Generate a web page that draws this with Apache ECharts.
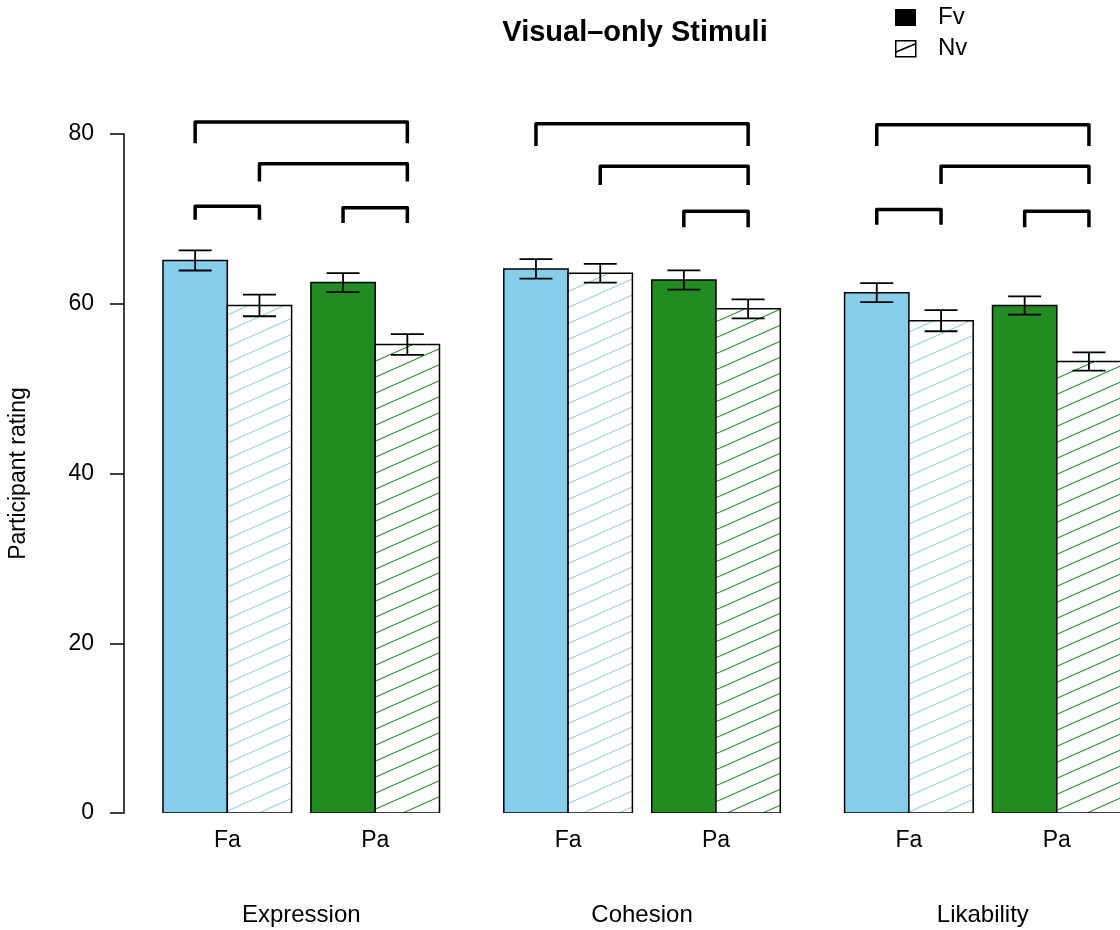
<!DOCTYPE html>
<html><head><meta charset="utf-8">
<script src="https://cdn.jsdelivr.net/npm/echarts@6/dist/echarts.min.js"></script>
<style>html,body{margin:0;padding:0;background:#fff}#c{width:1120px;height:930px}</style>
</head><body><div id="c"></div>
<script>
// ---- data ----
const groups = ['Expression', 'Cohesion', 'Likability'];
const audioLevels = ['Fa', 'Pa'];
const visualLevels = ['Fv', 'Nv'];
const yTicks = [0, 20, 40, 60, 80];
const faFv = [65.1, 64.1, 61.3];
const faNv = [59.8, 63.6, 58.0];
const paFv = [62.5, 62.8, 59.8];
const paNv = [55.2, 59.4, 53.2];
const faFvErr = [1.18, 1.15, 1.12];
const faNvErr = [1.27, 1.10, 1.24];
const paFvErr = [1.12, 1.14, 1.08];
const paNvErr = [1.22, 1.12, 1.08];
// significance brackets: group, from bar, to bar (0 FaFv, 1 FaNv, 2 PaFv, 3 PaNv), top level, tip level
const bracketGroup = [0, 0, 0, 0, 1, 1, 1, 2, 2, 2, 2];
const bracketFrom  = [0, 1, 0, 2, 0, 1, 2, 0, 1, 0, 2];
const bracketTo    = [3, 3, 1, 3, 3, 3, 3, 3, 3, 1, 3];
const bracketTop   = [81.4, 76.5, 71.5, 71.3, 81.2, 76.2, 70.9, 81.1, 76.2, 71.1, 70.9];
const bracketTip   = [78.9, 74.4, 69.9, 69.5, 78.6, 74.0, 69.0, 78.6, 74.1, 69.3, 69.0];

// ---- layout (bar units) ----
const PAIR_STEP = 2.3, GROUP_STEP = 5.3;
const X_MIN = -0.6065, X_MAX = 14.883;
const FONT = '"Liberation Sans", Arial, Helvetica, sans-serif';
const SKY = '#87CEEB', GREEN = '#228B22';

function barLeft(g, a, v) { return g * GROUP_STEP + a * PAIR_STEP + v; }

function makePattern(color) {
  const w = 36, h = 16;
  const cv = document.createElement('canvas');
  cv.width = w; cv.height = h;
  const ctx = cv.getContext('2d');
  ctx.fillStyle = '#fff'; ctx.fillRect(0, 0, w, h);
  ctx.strokeStyle = color; ctx.lineWidth = 1.1;
  for (let k = -2; k <= 2; k++) {
    ctx.beginPath();
    ctx.moveTo(-w, 2 * h + h * k);
    ctx.lineTo(2 * w, -h + h * k);
    ctx.stroke();
  }
  return { image: cv, repeat: 'repeat' };
}

const barDefs = [
  { name: 'Fa Fv', a: 0, v: 0, vals: faFv, errs: faFvErr, color: SKY, hatch: false },
  { name: 'Fa Nv', a: 0, v: 1, vals: faNv, errs: faNvErr, color: SKY, hatch: true },
  { name: 'Pa Fv', a: 1, v: 0, vals: paFv, errs: paFvErr, color: GREEN, hatch: false },
  { name: 'Pa Nv', a: 1, v: 1, vals: paNv, errs: paNvErr, color: GREEN, hatch: true }
];

function barRenderer(def) {
  const fill = def.hatch ? makePattern(def.color) : def.color;
  return function (params, api) {
    const x0 = api.value(0), y = api.value(1), e = api.value(2);
    const p0 = api.coord([x0, 0]);
    const p1 = api.coord([x0 + 1, y]);
    const cx = (p0[0] + p1[0]) / 2;
    const eTop = api.coord([x0, y + e])[1];
    const eBot = api.coord([x0, y - e])[1];
    const hw = 16.5;
    const lineStyle = { stroke: '#000', lineWidth: 1.8 };
    return {
      type: 'group',
      children: [
        { type: 'rect', shape: { x: p0[0], y: p1[1], width: p1[0] - p0[0], height: p0[1] - p1[1] },
          style: { fill: fill, stroke: '#000', lineWidth: 1.5 } },
        { type: 'line', shape: { x1: cx, y1: eTop, x2: cx, y2: eBot }, style: lineStyle },
        { type: 'line', shape: { x1: cx - hw, y1: eTop, x2: cx + hw, y2: eTop }, style: lineStyle },
        { type: 'line', shape: { x1: cx - hw, y1: eBot, x2: cx + hw, y2: eBot }, style: lineStyle }
      ]
    };
  };
}

const series = barDefs.map(def => ({
  type: 'custom',
  name: def.name,
  clip: true,
  renderItem: barRenderer(def),
  encode: { x: 0, y: 1 },
  data: groups.map((_, g) => [barLeft(g, def.a, def.v), def.vals[g], def.errs[g]])
}));

// brackets
series.push({
  type: 'custom',
  name: 'brackets',
  clip: false,
  silent: true,
  encode: { x: [1, 2], y: [3, 4] },
  data: bracketGroup.map((g, i) => {
    const f = bracketFrom[i], t = bracketTo[i];
    return [g, barLeft(g, Math.floor(f / 2), f % 2) + 0.5, barLeft(g, Math.floor(t / 2), t % 2) + 0.5,
            bracketTop[i], bracketTip[i]];
  }),
  renderItem: function (params, api) {
    const a = api.coord([api.value(1), api.value(4)]);
    const b = api.coord([api.value(1), api.value(3)]);
    const c = api.coord([api.value(2), api.value(3)]);
    const d = api.coord([api.value(2), api.value(4)]);
    return { type: 'polyline', shape: { points: [a, b, c, d] },
      style: { stroke: '#000', lineWidth: 3.5, fill: null, lineJoin: 'round', lineCap: 'butt' } };
  }
});

// category labels (Fa / Pa under each pair, group names below)
const labelData = [];
groups.forEach((gName, g) => {
  audioLevels.forEach((aName, a) => labelData.push([barLeft(g, a, 1), 0, aName, 0]));
  labelData.push([(barLeft(g, 0, 0) + barLeft(g, 1, 2)) / 2, 0, gName, 1]);
});
series.push({
  type: 'custom',
  name: 'labels',
  clip: false,
  silent: true,
  encode: { x: 0, y: 1 },
  data: labelData,
  renderItem: function (params, api) {
    const p = api.coord([api.value(0), api.value(1)]);
    const isGroup = api.value(3) === 1;
    return { type: 'text', style: {
      text: labelData[params.dataIndex][2], x: p[0], y: p[1] + (isGroup ? 102 : 28),
      fill: '#000', fontSize: isGroup ? 24 : 23, fontFamily: FONT, align: 'center', verticalAlign: 'middle' } };
  }
});

const chart = echarts.init(document.getElementById('c'), null, { renderer: 'canvas' });
chart.setOption({
  backgroundColor: '#fff',
  animation: false,
  title: {
    text: 'Visual\u2013only Stimuli', left: 630, top: 13, textAlign: 'center',
    textStyle: { fontSize: 29, fontWeight: 'bold', fontFamily: FONT, color: '#000' }
  },
  grid: { left: 124, right: 0, top: 134, bottom: 117, outerBoundsMode: 'none', containLabel: false },
  xAxis: { type: 'value', min: X_MIN, max: X_MAX, show: false },
  yAxis: {
    type: 'value', min: yTicks[0], max: yTicks[yTicks.length - 1], interval: yTicks[1] - yTicks[0],
    axisLine: { show: true, onZero: false, lineStyle: { color: '#000', width: 1.5 } },
    axisTick: { show: true, length: 14, lineStyle: { color: '#000', width: 1.5 } },
    axisLabel: { fontSize: 23, color: '#000', margin: 30, fontFamily: FONT },
    splitLine: { show: false },
    name: 'Participant rating', nameLocation: 'middle', nameGap: 94,
    nameTextStyle: { fontSize: 23, color: '#000', fontFamily: FONT }
  },
  graphic: [
    { type: 'rect', left: 895, top: 9, shape: { width: 21, height: 17 }, style: { fill: '#000' } },
    { type: 'text', left: 938, top: 5, style: { text: visualLevels[0], fontSize: 24, fontFamily: FONT, fill: '#000' } },
    { type: 'rect', left: 895, top: 40, shape: { width: 20, height: 16 }, style: { fill: '#fff', stroke: '#000', lineWidth: 1.5 } },
    { type: 'line', shape: { x1: 896, y1: 52, x2: 915, y2: 44 }, style: { stroke: '#000', lineWidth: 1.5 } },
    { type: 'text', left: 938, top: 36, style: { text: visualLevels[1], fontSize: 24, fontFamily: FONT, fill: '#000' } }
  ],
  series: series
});
</script></body></html>
